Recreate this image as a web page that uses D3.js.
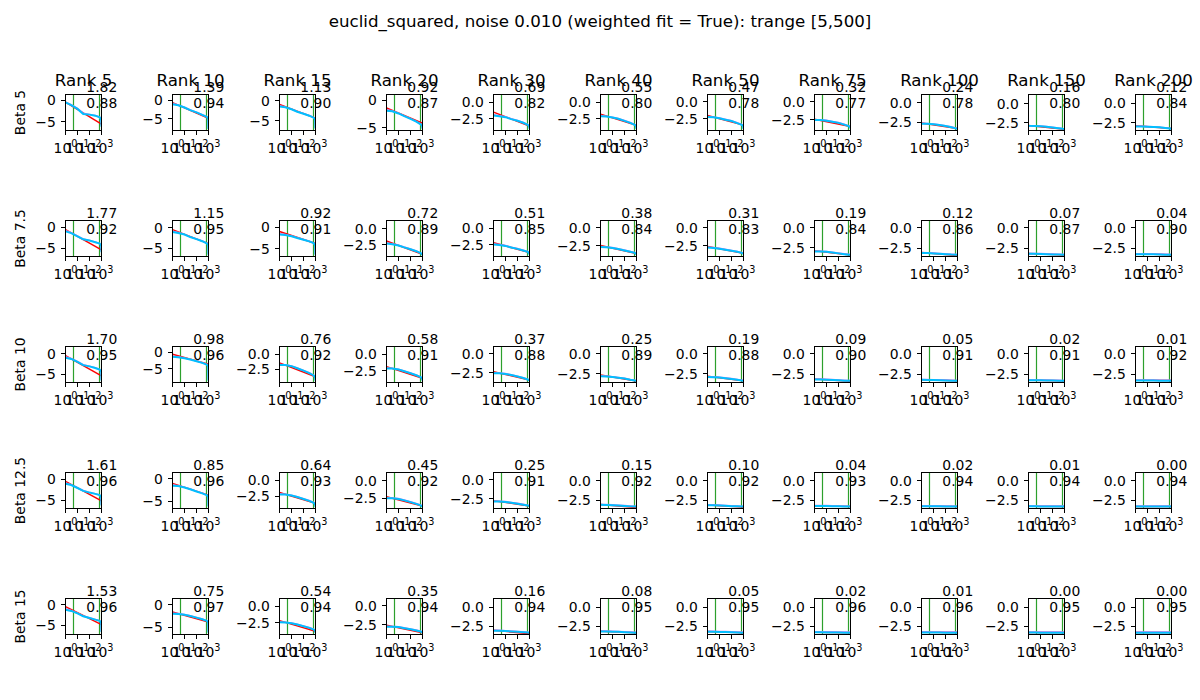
<!DOCTYPE html>
<html><head><meta charset="utf-8">
<script src="https://cdn.jsdelivr.net/npm/d3@7"></script>
<style>body{margin:0;background:#fff} text{font-family:"DejaVu Sans",sans-serif;fill:#000}</style>
</head><body><svg id="chart" width="1200" height="700"></svg>
<script>
const chartTitle = "euclid_squared, noise 0.010 (weighted fit = True): trange [5,500]";
const ranks = [5,10,15,20,30,40,50,75,100,150,200];
const betas = ["5","7.5","10","12.5","15"];
const xTicks = [1,10,100,1000];
const xDomain = [1,1000];
const trangeMarks = [4.6,700];
const xGrid = [1,3,10,30,100,300,700,950,1000];
const redX = [1,1000];

const slopeLabels = [
 ["1.82","1.39","1.13","0.92","0.69","0.55","0.47","0.32","0.24","0.16","0.12"],
 ["1.77","1.15","0.92","0.72","0.51","0.38","0.31","0.19","0.12","0.07","0.04"],
 ["1.70","0.98","0.76","0.58","0.37","0.25","0.19","0.09","0.05","0.02","0.01"],
 ["1.61","0.85","0.64","0.45","0.25","0.15","0.10","0.04","0.02","0.01","0.00"],
 ["1.53","0.75","0.54","0.35","0.16","0.08","0.05","0.02","0.01","0.00","0.00"]
];
const fitLabels = [
 ["0.88","0.94","0.90","0.87","0.82","0.80","0.78","0.77","0.78","0.80","0.84"],
 ["0.92","0.95","0.91","0.89","0.85","0.84","0.83","0.84","0.86","0.87","0.90"],
 ["0.95","0.96","0.92","0.91","0.88","0.89","0.88","0.90","0.91","0.91","0.92"],
 ["0.96","0.96","0.93","0.92","0.91","0.92","0.92","0.93","0.94","0.94","0.94"],
 ["0.96","0.97","0.94","0.94","0.94","0.95","0.95","0.96","0.96","0.95","0.95"]
];
const yLimits = [
 [[-7.1,1.4],[-8.1,1.6],[-7.5,1.5],[-5.55,1.1],[-4.26,1.16],[-4.24,1.12],[-4.19,1.1],[-3.96,1.04],[-3.57,1.07],[-3.5,1.17],[-3.5,1.1]],
 [[-7.0,1.6],[-7.0,1.7],[-6.8,1.55],[-4.33,1.3],[-4.3,1.14],[-4.07,1.07],[-4.07,1.07],[-3.65,0.96],[-3.48,0.91],[-3.48,0.91],[-3.48,0.91]],
 [[-7.0,1.7],[-9.1,1.7],[-4.67,1.33],[-4.3,1.14],[-3.85,1.01],[-3.65,0.96],[-3.65,0.96],[-3.48,0.91],[-3.48,0.91],[-3.48,0.91],[-3.48,0.91]],
 [[-7.0,1.6],[-6.55,1.4],[-4.4,1.25],[-3.95,1.13],[-3.85,1.01],[-3.52,1.05],[-3.52,1.05],[-3.52,1.05],[-3.52,1.05],[-3.52,1.05],[-3.52,1.05]],
 [[-7.2,1.5],[-6.6,1.4],[-4.3,1.14],[-3.85,1.01],[-3.55,1.1],[-3.55,1.1],[-3.55,1.1],[-3.55,1.1],[-3.55,1.1],[-3.55,1.1],[-3.55,1.1]]
];
const yTickSteps = [
 [5,5,5,5,2.5,2.5,2.5,2.5,2.5,2.5,2.5],
 [5,5,5,2.5,2.5,2.5,2.5,2.5,2.5,2.5,2.5],
 [5,5,2.5,2.5,2.5,2.5,2.5,2.5,2.5,2.5,2.5],
 [5,5,2.5,2.5,2.5,2.5,2.5,2.5,2.5,2.5,2.5],
 [5,5,2.5,2.5,2.5,2.5,2.5,2.5,2.5,2.5,2.5]
];
const redEnds = [
 [[-0.4,-5.6],[-0.6,-4.8],[-1.0,-4.4],[-1.4,-4.2],[-1.5,-3.6],[-1.8,-3.45],[-2.0,-3.4],[-2.4,-3.4],[-2.6,-3.3],[-2.85,-3.33],[-2.9,-3.26]],
 [[-0.6,-5.4],[-0.5,-3.9],[-1.0,-3.8],[-1.9,-4.0],[-2.2,-3.7],[-2.5,-3.65],[-2.65,-3.6],[-2.9,-3.45],[-3.0,-3.35],[-3.1,-3.3],[-3.15,-3.27]],
 [[-0.5,-5.4],[-0.6,-3.6],[-1.4,-3.7],[-1.9,-3.65],[-2.4,-3.5],[-2.7,-3.45],[-2.85,-3.42],[-3.05,-3.32],[-3.13,-3.28],[-3.2,-3.26],[-3.22,-3.25]],
 [[-0.5,-5.2],[-1.0,-3.6],[-1.9,-3.6],[-2.3,-3.6],[-2.8,-3.5],[-3.0,-3.38],[-3.08,-3.33],[-3.18,-3.28],[-3.22,-3.27],[-3.24,-3.27],[-3.26,-3.27]],
 [[-0.45,-4.8],[-1.6,-3.85],[-2.2,-3.8],[-2.6,-3.6],[-3.0,-3.45],[-3.12,-3.34],[-3.17,-3.31],[-3.25,-3.31],[-3.27,-3.3],[-3.29,-3.29],[-3.29,-3.29]]
];
const cyanY = [
 [[-0.45,-1.1,-2.0,-3.2,-3.35,-3.6,-4.0,-4.6,-6.2],
  [-1.0,-1.3,-1.9,-2.6,-3.2,-3.9,-4.4,-5.0,-7.7],
  [-1.5,-1.7,-2.2,-2.8,-3.3,-3.8,-4.3,-4.8,-7.0],
  [-1.9,-2.0,-2.4,-2.9,-3.4,-3.9,-4.4,-4.7,-5.2],
  [-2.0,-2.1,-2.25,-2.55,-2.8,-3.1,-3.4,-3.6,-4.0],
  [-2.1,-2.15,-2.3,-2.5,-2.8,-3.1,-3.4,-3.6,-4.0],
  [-2.2,-2.25,-2.4,-2.6,-2.8,-3.1,-3.35,-3.5,-3.95],
  [-2.5,-2.5,-2.6,-2.75,-2.9,-3.15,-3.35,-3.5,-3.7],
  [-2.7,-2.7,-2.75,-2.85,-3.0,-3.15,-3.3,-3.35,-3.36],
  [-2.9,-2.92,-2.95,-3.0,-3.1,-3.2,-3.28,-3.3,-3.3],
  [-3.0,-3.0,-3.02,-3.05,-3.1,-3.18,-3.25,-3.28,-3.3]],
 [[-1.0,-1.4,-2.2,-2.9,-3.2,-3.6,-3.9,-4.4,-6.0],
  [-1.1,-1.3,-1.7,-2.3,-2.8,-3.3,-3.8,-4.2,-6.6],
  [-1.7,-1.8,-2.1,-2.5,-2.9,-3.3,-3.7,-4.2,-6.4],
  [-2.3,-2.4,-2.6,-2.9,-3.2,-3.5,-3.8,-4.0,-4.1],
  [-2.5,-2.55,-2.7,-2.95,-3.15,-3.4,-3.6,-3.8,-4.0],
  [-2.7,-2.75,-2.85,-3.0,-3.2,-3.4,-3.55,-3.7,-3.8],
  [-2.8,-2.85,-2.95,-3.1,-3.25,-3.4,-3.55,-3.65,-3.75],
  [-3.0,-3.0,-3.05,-3.15,-3.25,-3.35,-3.42,-3.44,-3.44],
  [-3.05,-3.05,-3.1,-3.15,-3.2,-3.25,-3.27,-3.28,-3.28],
  [-3.15,-3.15,-3.17,-3.2,-3.23,-3.25,-3.27,-3.28,-3.28],
  [-3.2,-3.2,-3.21,-3.22,-3.24,-3.26,-3.27,-3.28,-3.28]],
 [[-1.0,-1.3,-2.0,-2.8,-3.1,-3.5,-3.9,-4.4,-6.5],
  [-1.4,-1.5,-1.8,-2.2,-2.7,-3.2,-3.7,-4.3,-8.6],
  [-1.75,-1.75,-1.95,-2.3,-2.7,-3.1,-3.5,-3.8,-4.35],
  [-2.2,-2.2,-2.35,-2.6,-2.9,-3.2,-3.5,-3.7,-4.0],
  [-2.6,-2.6,-2.7,-2.85,-3.05,-3.25,-3.45,-3.55,-3.6],
  [-2.85,-2.87,-2.95,-3.05,-3.15,-3.3,-3.4,-3.43,-3.45],
  [-2.95,-2.97,-3.02,-3.1,-3.2,-3.3,-3.4,-3.42,-3.45],
  [-3.1,-3.1,-3.13,-3.17,-3.22,-3.26,-3.28,-3.28,-3.28],
  [-3.15,-3.16,-3.18,-3.2,-3.23,-3.26,-3.28,-3.28,-3.28],
  [-3.2,-3.21,-3.22,-3.23,-3.25,-3.27,-3.28,-3.28,-3.28],
  [-3.23,-3.23,-3.24,-3.25,-3.26,-3.27,-3.28,-3.28,-3.28]],
 [[-1.1,-1.4,-2.1,-2.8,-3.2,-3.5,-3.8,-4.3,-6.3],
  [-1.5,-1.6,-1.9,-2.3,-2.8,-3.2,-3.6,-4.0,-6.1],
  [-2.2,-2.2,-2.35,-2.6,-2.9,-3.2,-3.5,-3.8,-4.15],
  [-2.5,-2.5,-2.6,-2.8,-3.05,-3.3,-3.5,-3.65,-3.75],
  [-2.9,-2.9,-2.97,-3.08,-3.2,-3.33,-3.45,-3.5,-3.6],
  [-3.05,-3.06,-3.1,-3.15,-3.2,-3.25,-3.28,-3.28,-3.28],
  [-3.1,-3.11,-3.14,-3.18,-3.22,-3.25,-3.27,-3.28,-3.28],
  [-3.2,-3.2,-3.21,-3.23,-3.25,-3.27,-3.28,-3.28,-3.28],
  [-3.23,-3.23,-3.24,-3.25,-3.26,-3.27,-3.28,-3.28,-3.28],
  [-3.25,-3.25,-3.26,-3.26,-3.27,-3.27,-3.28,-3.28,-3.28],
  [-3.26,-3.26,-3.26,-3.27,-3.27,-3.27,-3.28,-3.28,-3.28]],
 [[-1.2,-1.5,-2.1,-2.8,-3.2,-3.6,-3.9,-4.4,-6.6],
  [-2.0,-2.05,-2.2,-2.5,-2.85,-3.2,-3.55,-3.9,-6.2],
  [-2.45,-2.5,-2.6,-2.8,-3.05,-3.3,-3.55,-3.75,-4.05],
  [-2.8,-2.8,-2.85,-3.0,-3.15,-3.3,-3.45,-3.55,-3.6],
  [-3.05,-3.06,-3.1,-3.15,-3.2,-3.25,-3.3,-3.32,-3.33],
  [-3.15,-3.16,-3.18,-3.21,-3.25,-3.28,-3.31,-3.32,-3.33],
  [-3.2,-3.2,-3.22,-3.24,-3.27,-3.29,-3.31,-3.32,-3.33],
  [-3.27,-3.27,-3.28,-3.29,-3.3,-3.31,-3.32,-3.33,-3.33],
  [-3.29,-3.29,-3.3,-3.3,-3.31,-3.32,-3.32,-3.33,-3.33],
  [-3.3,-3.3,-3.31,-3.31,-3.32,-3.32,-3.33,-3.33,-3.33],
  [-3.31,-3.31,-3.31,-3.32,-3.32,-3.32,-3.33,-3.33,-3.33]]
];
const violetY = [
 [[-0.4,-1.0,-1.9,-3.0,-3.3,-3.55,-3.9,-4.5,-6.0],
  [-0.8,-1.2,-1.85,-2.55,-3.15,-3.85,-4.35,-4.9,-7.5],
  [-1.3,-1.6,-2.15,-2.75,-3.25,-3.75,-4.25,-4.7,-6.8],
  [-1.7,-1.9,-2.35,-2.85,-3.35,-3.85,-4.3,-4.6,-5.0],
  [-1.9,-2.05,-2.2,-2.5,-2.75,-3.05,-3.35,-3.55,-3.9],
  [-2.0,-2.1,-2.25,-2.45,-2.75,-3.05,-3.35,-3.55,-3.9],
  [-2.15,-2.2,-2.35,-2.55,-2.75,-3.05,-3.3,-3.45,-3.85],
  [-2.45,-2.47,-2.55,-2.7,-2.85,-3.1,-3.3,-3.45,-3.6],
  [-2.65,-2.67,-2.72,-2.82,-2.95,-3.1,-3.25,-3.3,-3.32],
  [-2.87,-2.9,-2.92,-2.97,-3.07,-3.17,-3.25,-3.27,-3.27],
  [-2.95,-2.96,-2.98,-3.02,-3.07,-3.15,-3.22,-3.25,-3.27]],
 [[-0.8,-1.3,-2.1,-2.8,-3.15,-3.55,-3.85,-4.3,-5.8],
  [-0.9,-1.2,-1.65,-2.25,-2.75,-3.25,-3.75,-4.1,-6.4],
  [-1.5,-1.7,-2.05,-2.45,-2.85,-3.25,-3.65,-4.1,-6.2],
  [-2.2,-2.35,-2.55,-2.85,-3.15,-3.45,-3.75,-3.95,-4.0],
  [-2.4,-2.5,-2.65,-2.9,-3.1,-3.35,-3.55,-3.75,-3.9],
  [-2.65,-2.7,-2.8,-2.95,-3.15,-3.35,-3.5,-3.65,-3.72],
  [-2.75,-2.8,-2.9,-3.05,-3.2,-3.35,-3.5,-3.6,-3.68],
  [-2.95,-2.97,-3.02,-3.1,-3.2,-3.3,-3.37,-3.4,-3.4],
  [-3.0,-3.01,-3.05,-3.1,-3.15,-3.2,-3.22,-3.23,-3.23],
  [-3.1,-3.1,-3.12,-3.15,-3.18,-3.2,-3.22,-3.23,-3.23],
  [-3.14,-3.14,-3.15,-3.17,-3.19,-3.21,-3.22,-3.23,-3.23]],
 [[-0.8,-1.2,-1.9,-2.7,-3.05,-3.45,-3.85,-4.3,-6.3],
  [-1.2,-1.4,-1.75,-2.15,-2.65,-3.15,-3.65,-4.2,-8.3],
  [-1.65,-1.7,-1.9,-2.25,-2.65,-3.05,-3.45,-3.75,-4.2],
  [-2.1,-2.15,-2.3,-2.55,-2.85,-3.15,-3.45,-3.65,-3.9],
  [-2.55,-2.57,-2.65,-2.8,-3.0,-3.2,-3.4,-3.5,-3.55],
  [-2.8,-2.83,-2.9,-3.0,-3.1,-3.25,-3.35,-3.38,-3.4],
  [-2.9,-2.92,-2.97,-3.05,-3.15,-3.25,-3.35,-3.37,-3.4],
  [-3.05,-3.05,-3.08,-3.12,-3.17,-3.21,-3.23,-3.23,-3.23],
  [-3.1,-3.11,-3.13,-3.15,-3.18,-3.21,-3.23,-3.23,-3.23],
  [-3.15,-3.16,-3.17,-3.18,-3.2,-3.22,-3.23,-3.23,-3.23],
  [-3.17,-3.17,-3.18,-3.19,-3.2,-3.21,-3.22,-3.22,-3.22]],
 [[-0.9,-1.3,-2.0,-2.7,-3.15,-3.45,-3.75,-4.2,-6.1],
  [-1.35,-1.5,-1.85,-2.25,-2.75,-3.15,-3.55,-3.9,-5.9],
  [-2.1,-2.15,-2.3,-2.55,-2.85,-3.15,-3.45,-3.75,-4.05],
  [-2.45,-2.47,-2.55,-2.75,-3.0,-3.25,-3.45,-3.6,-3.68],
  [-2.85,-2.86,-2.92,-3.03,-3.15,-3.28,-3.4,-3.45,-3.52],
  [-3.0,-3.01,-3.05,-3.1,-3.15,-3.2,-3.23,-3.23,-3.23],
  [-3.05,-3.06,-3.09,-3.13,-3.17,-3.2,-3.22,-3.23,-3.23],
  [-3.14,-3.14,-3.15,-3.17,-3.19,-3.21,-3.22,-3.22,-3.22],
  [-3.17,-3.17,-3.18,-3.19,-3.2,-3.21,-3.22,-3.22,-3.22],
  [-3.18,-3.18,-3.19,-3.19,-3.2,-3.2,-3.21,-3.21,-3.21],
  [-3.19,-3.19,-3.19,-3.2,-3.2,-3.2,-3.21,-3.21,-3.21]],
 [[-1.0,-1.4,-2.05,-2.75,-3.15,-3.55,-3.85,-4.3,-6.4],
  [-1.85,-1.95,-2.15,-2.45,-2.8,-3.15,-3.5,-3.8,-6.0],
  [-2.4,-2.45,-2.55,-2.75,-3.0,-3.25,-3.5,-3.7,-3.95],
  [-2.75,-2.76,-2.8,-2.95,-3.1,-3.25,-3.4,-3.5,-3.55],
  [-3.0,-3.01,-3.05,-3.1,-3.15,-3.2,-3.25,-3.27,-3.28],
  [-3.1,-3.1,-3.12,-3.15,-3.19,-3.22,-3.25,-3.26,-3.27],
  [-3.13,-3.13,-3.15,-3.17,-3.2,-3.22,-3.24,-3.25,-3.26],
  [-3.2,-3.2,-3.21,-3.21,-3.22,-3.23,-3.24,-3.24,-3.24],
  [-3.21,-3.21,-3.22,-3.22,-3.23,-3.23,-3.24,-3.24,-3.24],
  [-3.22,-3.22,-3.23,-3.23,-3.24,-3.24,-3.24,-3.25,-3.25],
  [-3.23,-3.23,-3.23,-3.24,-3.24,-3.24,-3.24,-3.25,-3.25]]
];

const svg = d3.select("#chart");
svg.append("rect").attr("width",1200).attr("height",700).attr("fill","#fff");
svg.append("text").attr("x",600).attr("y",26.5).attr("text-anchor","middle")
  .style("font-size","16.67px").text(chartTitle);

const L0 = 65.5, DX = 107, T0 = 94.5, DY = 126, W = 36, H = 36;
const FS = 13.9, TICK = 4.86;
const fmtInt = d3.format("d"), fmtDec = d3.format(".1f");

betas.forEach((beta, r) => {
  ranks.forEach((rank, c) => {
    const g = svg.append("g").attr("transform", `translate(${L0 + c*DX},${T0 + r*DY})`);
    const x = d3.scaleLog().domain(xDomain).range([0, W]);
    const y = d3.scaleLinear().domain(yLimits[r][c]).range([H, 0]);
    const cid = `clip-${r}-${c}`;
    g.append("clipPath").attr("id", cid).append("rect").attr("width", W).attr("height", H);
    const plot = g.append("g").attr("clip-path", `url(#${cid})`);
    trangeMarks.forEach(v => {
      const px = Math.round(x(v));
      plot.append("line").attr("x1", px).attr("x2", px).attr("y1", 0).attr("y2", H)
        .attr("stroke", "#2ca02c").attr("stroke-width", 1.2);
    });
    const line = d3.line().x(d => x(d[0])).y(d => y(d[1]));
    plot.append("path").attr("d", line(redX.map((xv,k) => [xv, redEnds[r][c][k]])))
      .attr("fill","none").attr("stroke","#ff0000").attr("stroke-width",1.5);
    plot.append("path").attr("d", line(xGrid.map((xv,k) => [xv, violetY[r][c][k]])))
      .attr("fill","none").attr("stroke","#c983f5").attr("stroke-width",1.5);
    plot.append("path").attr("d", line(xGrid.map((xv,k) => [xv, cyanY[r][c][k]])))
      .attr("fill","none").attr("stroke","#00bfff").attr("stroke-width",2);
    g.append("rect").attr("width", W).attr("height", H).attr("fill","none")
      .attr("stroke","#000").attr("stroke-width",1).attr("shape-rendering","crispEdges");
    // x ticks
    xTicks.forEach(v => {
      g.append("line").attr("x1", x(v)).attr("x2", x(v)).attr("y1", H).attr("y2", H + TICK)
        .attr("stroke","#000").attr("stroke-width",1).attr("shape-rendering","crispEdges");
      const t = g.append("text").attr("x", x(v)).attr("y", H + 22.5)
        .attr("text-anchor","middle").style("font-size", FS + "px");
      t.append("tspan").text("10");
      t.append("tspan").attr("dy", -6.2).style("font-size","9.7px").text(String(Math.round(Math.log10(v))));
    });
    // y ticks
    const [lo, hi] = yLimits[r][c];
    const step = yTickSteps[r][c];
    const fmt = step >= 5 ? fmtInt : fmtDec;
    for (let v = Math.ceil(lo/step)*step; v <= hi + 1e-9; v += step) {
      g.append("line").attr("x1", -TICK).attr("x2", 0).attr("y1", y(v)).attr("y2", y(v))
        .attr("stroke","#000").attr("stroke-width",1).attr("shape-rendering","crispEdges");
      g.append("text").attr("x", -9.7).attr("y", y(v)).attr("dy","0.36em")
        .attr("text-anchor","end").style("font-size", FS + "px").text(fmt(Math.abs(v) < 1e-9 ? 0 : v));
    }
    if (r === 0) {
      g.append("text").attr("x", W/2).attr("y", -8.8).attr("text-anchor","middle")
        .style("font-size","16.67px").text("Rank " + rank);
    }
    if (c === 0) {
      g.append("text").attr("transform", `translate(${25.3 - L0},${H/2}) rotate(-90)`)
        .attr("text-anchor","middle").style("font-size", FS + "px").text("Beta " + beta);
    }
    g.append("text").attr("x", W + 15.8).attr("y", -2.3).attr("text-anchor","end")
      .style("font-size", FS + "px").text(slopeLabels[r][c]);
    g.append("text").attr("x", W + 15.8).attr("y", 13).attr("text-anchor","end")
      .style("font-size", FS + "px").text(fitLabels[r][c]);
  });
});
</script></body></html>
